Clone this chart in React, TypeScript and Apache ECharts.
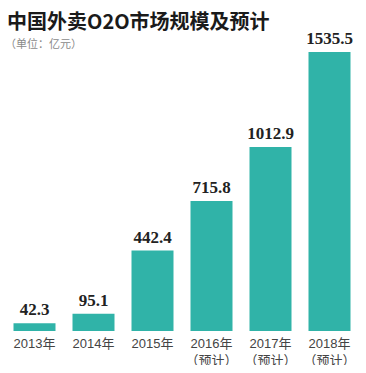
import React, { useEffect, useRef } from "react";
import * as echarts from "echarts";

const categories = ["2013年", "2014年", "2015年", "2016年\n（预计）", "2017年\n（预计）", "2018年\n（预计）"];
const values = [42.3, 95.1, 442.4, 715.8, 1012.9, 1535.5];
const labels = ["42.3", "95.1", "442.4", "715.8", "1012.9", "1535.5"];
const title = "中国外卖O2O市场规模及预计";
const subtitle = "（单位：亿元）";

export default function App() {
  const ref = useRef<HTMLDivElement>(null);
  useEffect(() => {
    const chart = echarts.init(ref.current!, null, { renderer: "svg" });
    chart.setOption({
      animation: false,
      backgroundColor: "#ffffff",
      title: [
        {
          text: title,
          left: 2,
          top: 2,
          textStyle: { fontSize: 20, fontWeight: "bold", color: "#1a1a1a", fontFamily: "Noto Sans CJK SC", lineHeight: 26 },
        },
        {
          text: subtitle,
          left: 0,
          top: 31,
          textStyle: { fontSize: 11, fontWeight: "normal", color: "#8a8a8a", fontFamily: "Noto Sans CJK SC", lineHeight: 14 },
        },
      ],
      grid: { left: 5, right: 7, top: 52, bottom: 42, containLabel: false },
      xAxis: {
        type: "category",
        data: categories,
        axisLine: { show: false },
        axisTick: { show: false },
        axisLabel: {
          interval: 0,
          margin: 4,
          color: "#444444",
          fontSize: 13,
          lineHeight: 17,
          verticalAlign: "top",
          fontFamily: "Liberation Sans, Noto Sans CJK SC",
        },
      },
      yAxis: {
        type: "value",
        min: 0,
        max: 1535.5,
        show: false,
        splitLine: { show: false },
      },
      series: [
        {
          type: "bar",
          data: values,
          barWidth: 42,
          itemStyle: { color: "#30b3a8" },
          label: {
            show: true,
            position: "top",
            distance: 5,
            formatter: (p: any) => labels[p.dataIndex],
            fontFamily: "Liberation Serif",
            fontWeight: "bold",
            fontSize: 17,
            color: "#222222",
          },
        },
      ],
    });
    return () => chart.dispose();
  }, []);
  return <div ref={ref} style={{ width: 366, height: 373, margin: -8 }} />;
}
